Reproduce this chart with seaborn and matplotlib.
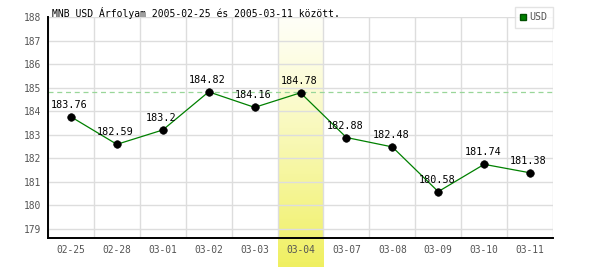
import numpy as np
import pandas as pd
import matplotlib
matplotlib.use("Agg")
import matplotlib.pyplot as plt
import seaborn as sns
from matplotlib.lines import Line2D

dates = ["02-25", "02-28", "03-01", "03-02", "03-03", "03-04",
         "03-07", "03-08", "03-09", "03-10", "03-11"]
values = [183.76, 182.59, 183.2, 184.82, 184.16, 184.78,
          182.88, 182.48, 180.58, 181.74, 181.38]
labels = ["183.76", "182.59", "183.2", "184.82", "184.16", "184.78",
          "182.88", "182.48", "180.58", "181.74", "181.38"]
highlight = "03-04"
title = "MNB USD Árfolyam 2005-02-25 és 2005-03-11 között."
series_name = "USD"
yticks = list(range(179, 189))

sns.set_theme(style="white")
plt.rcParams['font.family'] = ['DejaVu Sans Mono', 'DejaVu Sans']

df = pd.DataFrame({"pos": np.arange(len(dates)), "date": dates, "value": values})

fig = plt.figure(figsize=(6, 2.7), dpi=100)
ax = fig.add_axes([48/600, 1-238/270, 505/600, 221/270])

ylo, yhi = 178.61, 188.0
hi = dates.index(highlight)
px_per_unit = 221 / (yhi - ylo)
band_bottom = ylo - 29 / px_per_unit
grad = np.linspace(0, 1, 256).reshape(-1, 1) ** 1.15
top_c = np.array([1.0, 1.0, 0.97])
bot_c = np.array([0.94, 0.94, 0.38])
img = top_c[None, None, :] * (1 - grad[..., None]) + bot_c[None, None, :] * grad[..., None]
ax.imshow(img, extent=[hi - 0.5, hi + 0.5, band_bottom, yhi], aspect='auto',
          origin='upper', clip_on=False, zorder=0.5)

for y in yticks:
    ax.axhline(y, color="#dddddd", lw=1, zorder=1)
for x in np.arange(len(dates) + 1) - 0.5:
    ax.axvline(x, color="#dddddd", lw=1, zorder=1)

ax.axhline(max(values), color="#99d699", lw=0.9, ls=(0, (4, 3)), zorder=1.5)

sns.lineplot(data=df, x="pos", y="value", color="#008000", lw=0.9, ax=ax, zorder=3)
sns.scatterplot(data=df, x="pos", y="value", color="black", s=30, edgecolor="black",
                ax=ax, zorder=4)
for x, y, t in zip(df["pos"], values, labels):
    ax.annotate(t, (x, y), xytext=(-1, 5), textcoords="offset points",
                ha="center", va="bottom", fontsize=7.3, color="black", zorder=5)

ax.set_xlim(-0.5, len(dates) - 0.5)
ax.set_ylim(ylo, yhi)
ax.set_xticks(df["pos"])
ax.set_xticklabels(dates)
ax.set_yticks(yticks)
ax.tick_params(axis="both", length=0, labelsize=6.9, colors="#555555", pad=5)
ax.set_xlabel("")
ax.set_ylabel("")
for s in ["left", "bottom"]:
    ax.spines[s].set_color("black")
    ax.spines[s].set_linewidth(1.4)
    ax.spines[s].set_zorder(6)
for s in ["top", "right"]:
    ax.spines[s].set_visible(False)

fig.text(52/600, 1-17/270, title, fontsize=7.0, color="black", ha="left", va="baseline")

handle = Line2D([], [], marker="s", color="none", markerfacecolor="#008000",
                markeredgecolor="#005000", markersize=5)
leg = fig.legend([handle], [series_name], loc="upper right",
                 bbox_to_anchor=(553/600, 1-7/270), frameon=True, fancybox=False,
                 fontsize=7.2, handlelength=0.6, handletextpad=0.35,
                 borderpad=0.55, borderaxespad=0)
leg.get_frame().set_edgecolor("#dddddd")
leg.get_frame().set_linewidth(1)
for t in leg.get_texts():
    t.set_color("#555555")

fig.savefig("out.png", dpi=100)
